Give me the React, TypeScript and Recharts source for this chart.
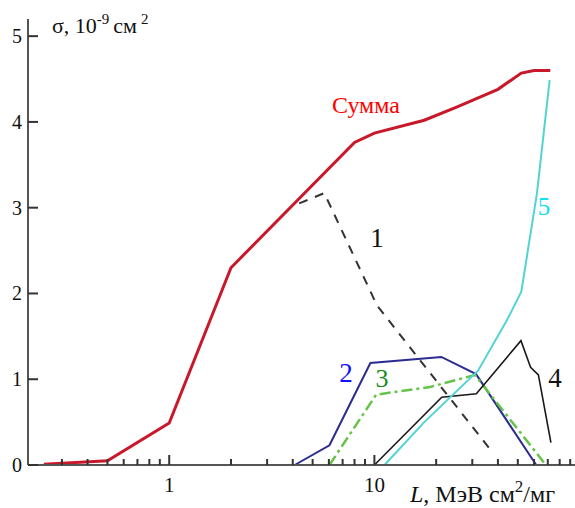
import React from "react";
import { LineChart, Line, XAxis, YAxis, ReferenceDot } from "recharts";

// L, MeV cm^2/mg  vs  sigma, 10^-9 cm^2
const sumL = [0.245, 0.5, 1, 2, 8, 10, 17.5, 25, 40, 52, 60, 72];
const sumV = [0.01, 0.05, 0.49, 2.3, 3.76, 3.87, 4.02, 4.17, 4.38, 4.57, 4.6, 4.6];

const c1L = [4.3, 5.7, 10.3, 37];
const c1V = [3.05, 3.17, 1.86, 0.17];

const c2L = [4.09, 6.04, 9.56, 21.2, 31.3, 61.5];
const c2V = [0, 0.23, 1.19, 1.26, 1.06, 0];

const c3L = [6.04, 10.2, 18.7, 30.9, 67];
const c3V = [0, 0.82, 0.91, 1.05, 0.03];

const c4L = [10, 21.3, 31.4, 51.8, 57.7, 63, 72.5];
const c4V = [0, 0.79, 0.83, 1.45, 1.14, 1.05, 0.26];

const c5L = [11.2, 17.5, 32, 44.3, 52, 62, 71.5];
const c5V = [0, 0.5, 1.1, 1.69, 2.02, 3.17, 4.49];

const xTicks = [0.3, 0.4, 0.5, 0.6, 0.7, 0.8, 0.9, 1, 2, 3, 4, 5, 6, 7, 8, 9, 10, 20, 30, 40, 50, 60, 70, 80, 90];
const xMajor = [1, 10];
const yTicks = [0, 1, 2, 3, 4, 5];

const curveLabels = [
  { text: "Сумма", L: 9.1, v: 4.1, color: "#ff0000", size: 24 },
  { text: "1", L: 10.3, v: 2.54, color: "#111111", size: 27 },
  { text: "2", L: 7.27, v: 0.97, color: "#1010ff", size: 27 },
  { text: "3", L: 10.9, v: 0.91, color: "#1a8c1a", size: 26 },
  { text: "4", L: 75.9, v: 0.91, color: "#111111", size: 27 },
  { text: "5", L: 67.1, v: 2.91, color: "#14e0f0", size: 25 },
];

const zip = (ls: number[], vs: number[]) => ls.map((L, i) => ({ L, v: vs[i] }));

const font = "'Liberation Serif', 'Times New Roman', serif";

const XTick = (props: any) => {
  const { x, y, payload } = props;
  const major = xMajor.includes(payload.value);
  return (
    <g>
      <line x1={x} y1={y} x2={x} y2={y - (major ? 10 : 6)} stroke="#333" strokeWidth={2} />
      {major && (
        <text x={x} y={y + 27} textAnchor="middle" fontSize={21} fontFamily={font} fill="#111">
          {payload.value}
        </text>
      )}
    </g>
  );
};

const YTick = (props: any) => {
  const { x, y, payload } = props;
  return (
    <g>
      <line x1={x} y1={y} x2={x + 10} y2={y} stroke="#333" strokeWidth={2} />
      <text x={x - 6} y={y + 7} textAnchor="end" fontSize={20} fontFamily={font} fill="#111">
        {payload.value}
      </text>
    </g>
  );
};

const YTitle = () => (
  <text x={52} y={33} fontSize={22} fontFamily={font} fill="#111">
    σ, 10
    <tspan dy={-9} fontSize={15}>-9</tspan>
    <tspan dy={9} dx={4} fontSize={22}>см</tspan>
    <tspan dy={-9} dx={4} fontSize={15}>2</tspan>
  </text>
);

const XTitle = () => (
  <text x={410} y={502} fontSize={24} fontFamily={font} fill="#111">
    <tspan fontStyle="italic">L</tspan>, МэВ см
    <tspan dy={-10} fontSize={17}>2</tspan>
    <tspan dy={10}>/мг</tspan>
  </text>
);

export default function App() {
  return (
    <div style={{ position: "absolute", left: 0, top: 0, background: "#fff" }}>
      <LineChart width={575} height={508} margin={{ top: 19, right: 0, left: 0, bottom: 0 }}>
        <XAxis
          dataKey="L"
          type="number"
          scale="log"
          domain={[0.205, 95]}
          allowDataOverflow
          ticks={xTicks}
          interval={0}
          tickSize={0}
          tickMargin={0}
          height={43}
          tick={<XTick />}
          tickLine={false}
          axisLine={{ stroke: "#555", strokeWidth: 2 }}
          label={{ content: () => <XTitle /> }}
        />
        <YAxis
          type="number"
          domain={[0, 5.2]}
          ticks={yTicks}
          interval={0}
          width={28}
          tickSize={0}
          tickMargin={0}
          tick={<YTick />}
          tickLine={false}
          axisLine={{ stroke: "#555", strokeWidth: 2 }}
          label={{ content: () => <YTitle /> }}
        />
        <Line data={zip(c1L, c1V)} dataKey="v" stroke="#333" strokeWidth={2} strokeDasharray="9 8" dot={false} isAnimationActive={false} />
        <Line data={zip(c2L, c2V)} dataKey="v" stroke="#2b2b90" strokeWidth={2} dot={false} isAnimationActive={false} />
        <Line data={zip(c3L, c3V)} dataKey="v" stroke="#66c34a" strokeWidth={2.5} strokeDasharray="11 4 3 4" dot={false} isAnimationActive={false} />
        <Line data={zip(c4L, c4V)} dataKey="v" stroke="#1a1a1a" strokeWidth={1.6} dot={false} isAnimationActive={false} />
        <Line data={zip(c5L, c5V)} dataKey="v" stroke="#52d4d4" strokeWidth={2} dot={false} isAnimationActive={false} />
        <Line data={zip(sumL, sumV)} dataKey="v" stroke="#c8182a" strokeWidth={3} dot={false} isAnimationActive={false} />
        {curveLabels.map((c) => (
          <ReferenceDot
            key={c.text}
            x={c.L}
            y={c.v}
            r={1}
            shape={(p: any) => (
              <text x={p.cx} y={p.cy} textAnchor="middle" fontSize={c.size} fontFamily={font} fill={c.color}>
                {c.text}
              </text>
            )}
          />
        ))}
      </LineChart>
    </div>
  );
}
